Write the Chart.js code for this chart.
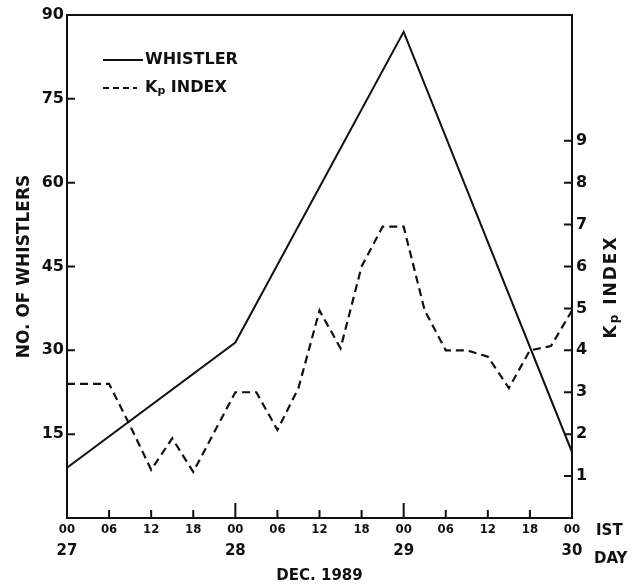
<!DOCTYPE html>
<html>
<head>
<meta charset="utf-8">
<script src="https://cdn.jsdelivr.net/npm/chart.js@4.4.0/dist/chart.umd.min.js"></script>
<style>
  html, body { margin: 0; padding: 0; background: #fff; }
  #wrap { width: 639px; height: 586px; }
</style>
</head>
<body>
<div id="wrap"><canvas id="chart" width="639" height="586"></canvas></div>
<script>
// Hours counted from 00 IST on 27 Dec 1989
const whistlerHours = [0, 24, 48, 72];
const whistlerCounts = [9, 31.4, 87, 11.8];

const kpHours = [0, 3, 6, 9, 12, 15, 18, 21, 24, 27, 30, 33, 36, 39, 42, 45, 48, 51, 54, 57, 60, 63, 66, 69, 72];
const kpValues = [3.2, 3.2, 3.2, 2.2, 1.15, 1.9, 1.1, 2.05, 3.0, 3.0, 2.1, 3.1, 4.95, 4.05, 6.0, 6.95, 6.95, 4.95, 4.0, 4.0, 3.85, 3.1, 4.0, 4.1, 4.95];

const hourTicks = [0, 6, 12, 18, 24, 30, 36, 42, 48, 54, 60, 66, 72];
const hourTickLabels = ["00", "06", "12", "18", "00", "06", "12", "18", "00", "06", "12", "18", "00"];
const dayTicks = [0, 24, 48, 72];
const dayTickLabels = ["27", "28", "29", "30"];
const whistlerTicks = [15, 30, 45, 60, 75, 90];
const kpTicks = [1, 2, 3, 4, 5, 6, 7, 8, 9];

const ink = "#111";
const fam = "'DejaVu Sans', sans-serif";
Chart.defaults.font.family = fam;
Chart.defaults.color = ink;

// "Kp" with a lowered small p, followed by the rest of the text
function drawKpText(ctx, x, y, rest, size) {
    ctx.font = "bold " + size + "px " + fam;
    ctx.fillText("K", x, y);
    x += ctx.measureText("K").width;
    ctx.font = "bold " + Math.round(size * 0.7) + "px " + fam;
    ctx.fillText("p", x, y + 3);
    x += ctx.measureText("p").width;
    ctx.font = "bold " + size + "px " + fam;
    ctx.fillText(rest, x, y);
}

function kpTextWidth(ctx, rest, size) {
    ctx.font = "bold " + size + "px " + fam;
    let w = ctx.measureText("K").width + ctx.measureText(rest).width;
    ctx.font = "bold " + Math.round(size * 0.7) + "px " + fam;
    return w + ctx.measureText("p").width;
}

// Frame top, inward tick marks, legend and side labels
const decorPlugin = {
    id: "decor",
    afterDraw(chart) {
        const { ctx, chartArea: a, scales } = chart;
        ctx.save();
        ctx.strokeStyle = ink;
        ctx.fillStyle = ink;
        ctx.lineWidth = 2;

        ctx.beginPath();
        ctx.moveTo(a.left - 1, a.top);
        ctx.lineTo(a.right + 1, a.top);
        ctx.stroke();

        ctx.beginPath();
        whistlerTicks.forEach(v => {
            const y = scales.yW.getPixelForValue(v);
            ctx.moveTo(a.left, y);
            ctx.lineTo(a.left + 8, y);
        });
        kpTicks.forEach(v => {
            const y = scales.yK.getPixelForValue(v);
            ctx.moveTo(a.right - 8, y);
            ctx.lineTo(a.right, y);
        });
        hourTicks.forEach(v => {
            const x = scales.x.getPixelForValue(v);
            const len = v % 24 === 0 ? 15 : 8;
            ctx.moveTo(x, a.bottom);
            ctx.lineTo(x, a.bottom - len);
        });
        ctx.stroke();

        // legend
        ctx.textBaseline = "middle";
        ctx.textAlign = "left";
        chart.data.datasets.forEach((ds, i) => {
            const y = a.top + 45 + i * 28;
            const dashed = ds.borderDash && ds.borderDash.length;
            ctx.setLineDash(dashed ? [6, 4] : []);
            ctx.beginPath();
            ctx.moveTo(a.left + 36, y);
            ctx.lineTo(a.left + (dashed ? 70 : 76), y);
            ctx.stroke();
            ctx.setLineDash([]);
            if (ds.label.startsWith("Kp")) {
                drawKpText(ctx, a.left + 78, y, ds.label.slice(2), 16);
            } else {
                ctx.font = "bold 16px " + fam;
                ctx.fillText(ds.label, a.left + 78, y);
            }
        });

        // right axis title, read bottom to top
        ctx.save();
        ctx.translate(612, 287);
        ctx.rotate(-Math.PI / 2);
        ctx.letterSpacing = "2px";
        const w = kpTextWidth(ctx, " INDEX", 17);
        drawKpText(ctx, -w / 2, 0, " INDEX", 17);
        ctx.restore();

        ctx.font = "bold 15px " + fam;
        ctx.fillText("IST", 596, a.bottom + 13);
        ctx.fillText("DAY", 594, a.bottom + 41);
        ctx.restore();
    }
};

new Chart(document.getElementById("chart"), {
    type: "line",
    data: {
        datasets: [
            {
                label: "WHISTLER",
                data: whistlerHours.map((h, i) => ({ x: h, y: whistlerCounts[i] })),
                yAxisID: "yW",
                borderColor: ink,
                borderWidth: 2,
                pointRadius: 0,
                tension: 0
            },
            {
                label: "Kp INDEX",
                data: kpHours.map((h, i) => ({ x: h, y: kpValues[i] })),
                yAxisID: "yK",
                borderColor: ink,
                borderWidth: 2.2,
                borderDash: [8, 5],
                pointRadius: 0,
                tension: 0
            }
        ]
    },
    options: {
        responsive: false,
        animation: false,
        devicePixelRatio: 1,
        layout: { padding: { top: 15, left: 0, right: 0, bottom: 0 } },
        plugins: {
            legend: { display: false },
            tooltip: { enabled: false }
        },
        scales: {
            x: {
                type: "linear",
                position: "bottom",
                min: 0,
                max: 72,
                weight: 0,
                afterBuildTicks: s => { s.ticks = hourTicks.map(v => ({ value: v })); },
                afterFit: s => { s.height = 20; },
                grid: { display: false, drawTicks: false },
                border: { color: ink, width: 2 },
                ticks: {
                    autoSkip: false,
                    maxRotation: 0,
                    padding: 4,
                    color: ink,
                    font: { family: "'DejaVu Sans Condensed', 'DejaVu Sans'", size: 13, weight: "bold" },
                    callback: (v, i) => hourTickLabels[i]
                }
            },
            xDay: {
                type: "linear",
                position: "bottom",
                min: 0,
                max: 72,
                weight: 1,
                afterBuildTicks: s => { s.ticks = dayTicks.map(v => ({ value: v })); },
                afterFit: s => { s.height = 48; },
                grid: { display: false, drawTicks: false },
                border: { display: false },
                ticks: {
                    autoSkip: false,
                    maxRotation: 0,
                    padding: 4,
                    color: ink,
                    font: { size: 15, weight: "bold" },
                    callback: (v, i) => dayTickLabels[i]
                },
                title: {
                    display: true,
                    text: "DEC. 1989",
                    color: ink,
                    font: { size: 15, weight: "bold" },
                    padding: { top: 0, bottom: 1 }
                }
            },
            yW: {
                type: "linear",
                position: "left",
                min: 0,
                max: 90,
                afterBuildTicks: s => { s.ticks = whistlerTicks.map(v => ({ value: v })); },
                afterFit: s => { s.width = 67; },
                grid: { display: false, drawTicks: false },
                border: { color: ink, width: 2 },
                ticks: { padding: 3, color: ink, font: { size: 16, weight: "bold" } },
                title: {
                    display: true,
                    text: "NO. OF WHISTLERS",
                    color: ink,
                    font: { size: 17, weight: "bold" },
                    padding: { top: 14, bottom: 0 }
                }
            },
            yK: {
                type: "linear",
                position: "right",
                min: 0,
                max: 12,
                afterBuildTicks: s => { s.ticks = kpTicks.map(v => ({ value: v })); },
                afterFit: s => { s.width = 67; },
                grid: { display: false, drawTicks: false },
                border: { color: ink, width: 2 },
                ticks: { padding: 4, color: ink, font: { size: 16, weight: "bold" } }
            }
        }
    },
    plugins: [decorPlugin]
});
</script>
</body>
</html>
